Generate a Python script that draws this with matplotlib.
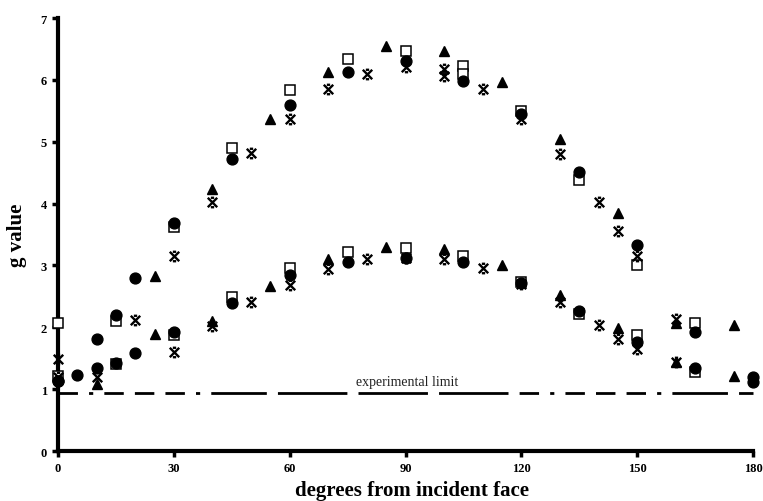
import matplotlib
matplotlib.use("Agg")
import matplotlib.pyplot as plt
from matplotlib.path import Path
import numpy as np

# ---- data ----
circle_hi_x = [0, 10, 15, 20, 30, 45, 60, 75, 90, 105, 120, 135, 150, 165, 180]
circle_hi_y = [1.13, 1.81, 2.20, 2.80, 3.69, 4.72, 5.59, 6.12, 6.31, 5.98, 5.45, 4.51, 3.33, 1.92, 1.20]
circle_lo_x = [0, 5, 10, 15, 20, 30, 45, 60, 75, 90, 105, 120, 135, 150, 165, 180]
circle_lo_y = [1.13, 1.23, 1.34, 1.43, 1.59, 1.93, 2.40, 2.85, 3.06, 3.12, 3.05, 2.72, 2.27, 1.77, 1.34, 1.12]

square_hi_x = [0, 15, 30, 45, 60, 75, 90, 105, 105, 120, 135, 150, 165]
square_hi_y = [2.07, 2.10, 3.62, 4.90, 5.83, 6.33, 6.47, 6.22, 6.10, 5.50, 4.38, 3.00, 2.07]
square_lo_x = [0, 15, 30, 45, 60, 75, 90, 105, 120, 135, 150, 165]
square_lo_y = [1.22, 1.41, 1.88, 2.49, 2.96, 3.22, 3.28, 3.16, 2.74, 2.22, 1.88, 1.28]

triangle_hi_x = [25, 40, 55, 70, 85, 100, 115, 130, 145, 160, 175]
triangle_hi_y = [2.83, 4.24, 5.36, 6.13, 6.54, 6.47, 5.97, 5.05, 3.84, 2.07, 2.04]
triangle_lo_x = [10, 25, 40, 55, 70, 85, 100, 115, 130, 145, 160, 175]
triangle_lo_y = [1.08, 1.89, 2.10, 2.67, 3.11, 3.30, 3.27, 3.01, 2.52, 1.99, 1.44, 1.21]

star_hi_x = [0, 20, 30, 40, 50, 60, 70, 80, 90, 100, 100, 110, 120, 130, 140, 145, 150, 160]
star_hi_y = [1.49, 2.12, 3.15, 4.03, 4.81, 5.37, 5.86, 6.10, 6.21, 6.18, 6.07, 5.86, 5.37, 4.80, 4.03, 3.56, 3.16, 2.14]
star_lo_x = [0, 10, 30, 40, 50, 60, 70, 80, 90, 100, 110, 120, 130, 140, 145, 150, 160]
star_lo_y = [1.20, 1.20, 1.60, 2.02, 2.41, 2.69, 2.95, 3.11, 3.12, 3.11, 2.96, 2.70, 2.41, 2.04, 1.81, 1.65, 1.44]

limit_value = 0.94
limit_label = "experimental limit"
x_ticks = [0, 30, 60, 90, 120, 150, 180]
y_ticks = [0, 1, 2, 3, 4, 5, 6, 7]
x_label = "degrees from incident face"
y_label = "g value"

# ---- figure ----
fig = plt.figure(figsize=(7.63, 5.02), dpi=100)
ax = fig.add_axes([0.076, 0.0996, 0.911, 0.8625])
serif = ["Liberation Serif", "DejaVu Serif"]

# custom asterisk-like marker: X with short caps
star_path = Path(
    [(-1, -1), (1, 1), (-1, 1), (1, -1), (-0.35, 1), (0.35, 1), (-0.35, -1), (0.35, -1)],
    [Path.MOVETO, Path.LINETO, Path.MOVETO, Path.LINETO,
     Path.MOVETO, Path.LINETO, Path.MOVETO, Path.LINETO])

ms = 7.8
for xs, ys in [(circle_hi_x, circle_hi_y), (circle_lo_x, circle_lo_y)]:
    ax.plot(xs, ys, ls="none", marker="o", ms=ms, mfc="black", mec="black", zorder=4)
for xs, ys in [(square_hi_x, square_hi_y), (square_lo_x, square_lo_y)]:
    ax.plot(xs, ys, ls="none", marker="s", ms=ms - 1.0, mfc="white", mec="black", mew=1.1, zorder=3)
for xs, ys in [(triangle_hi_x, triangle_hi_y), (triangle_lo_x, triangle_lo_y)]:
    ax.plot(xs, ys, ls="none", marker="^", ms=ms, mfc="black", mec="black", zorder=4)
for xs, ys in [(star_hi_x, star_hi_y), (star_lo_x, star_lo_y)]:
    ax.plot(xs, ys, ls="none", marker=star_path, ms=ms - 1.0, mfc="none", mec="black", mew=1.7, zorder=5)

# experimental limit line
ax.plot([0, 180], [limit_value, limit_value], color="black", lw=2.0,
        linestyle=(0, (7, 4, 1.5, 4, 7, 4, 7, 4, 7, 4, 1.5, 4, 20, 4, 25, 4, 25, 4, 25, 4)),
        zorder=2)
ax.text(90.5, limit_value + 0.08, limit_label, ha="center", va="bottom",
        fontsize=10, family=serif, color="#222222")

ax.set_xlim(0, 180)
ax.set_ylim(0, 7)
ax.set_xticks(x_ticks)
ax.set_yticks(y_ticks)
ax.set_xticklabels([str(v) for v in x_ticks], fontsize=9, fontweight="bold", family=serif)
ax.set_yticklabels([str(v) for v in y_ticks], fontsize=9, fontweight="bold", family=serif)
ax.tick_params(direction="out", length=4, width=2.5, pad=4)
for s in ["top", "right"]:
    ax.spines[s].set_visible(False)
for s in ["left", "bottom"]:
    ax.spines[s].set_linewidth(3)
for ln in ax.lines:
    ln.set_clip_on(False)

ax.set_xlabel(x_label, fontsize=15, fontweight="bold", family=serif)
ax.xaxis.set_label_coords((412 - 58) / 695, -0.066)
ax.set_ylabel(y_label, fontsize=15, fontweight="bold", family=serif, labelpad=10)

fig.savefig("out.png", dpi=100)
